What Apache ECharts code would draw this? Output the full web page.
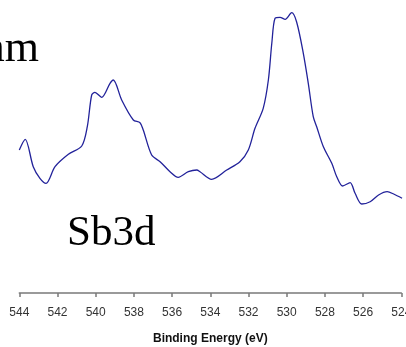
<!DOCTYPE html>
<html>
<head>
<meta charset="utf-8">
<script src="https://cdn.jsdelivr.net/npm/echarts@6/dist/echarts.min.js"></script>
<style>html,body{margin:0;padding:0;background:#fff}#c{width:406px;height:347px}</style>
</head>
<body>
<div id="c"></div>
<script>
var energy = [544.00,543.69,543.27,542.92,542.60,542.13,541.43,540.73,540.44,540.21,540.04,539.69,539.25,539.08,538.64,538.03,537.68,537.51,537.07,536.63,536.11,535.68,535.15,534.71,534.54,533.93,533.14,532.45,532.01,531.66,531.23,530.96,530.78,530.61,530.35,530.08,529.74,529.48,529.13,528.87,528.61,528.43,528.08,527.64,527.38,527.07,526.68,526.42,526.07,525.63,525.19,524.74,524.40,523.96];
var intensity = [143,153.7,126.3,114.7,109.7,126.3,138.7,147,166.3,198,200.7,195.7,209.7,213,193,173,170.3,163,138,131.3,121.3,115.7,121.3,123,121.3,113.7,123,131.3,143,164.7,184.7,213,249.7,274.7,275.7,273.7,280.3,271,239.7,209.7,176.3,166.3,146.3,129.7,116.3,107,110.3,99.7,89,91.3,98,101.3,99,94.7];
var xTicks = {min: 524, max: 544, interval: 2};
var axisTitle = 'Binding Energy (eV)';
var labelTop = 'nm';
var labelPeak = 'Sb3d';

var data = energy.map(function (e, i) { return [e, intensity[i]]; });
var chart = echarts.init(document.getElementById('c'), null, {renderer: 'canvas'});
chart.setOption({
  animation: false,
  backgroundColor: '#fff',
  grid: {left: 19.3, right: 4.7, top: 0, bottom: 54, containLabel: false, outerBoundsMode: 'none'},
  xAxis: {
    type: 'value', inverse: true,
    min: xTicks.min, max: xTicks.max, interval: xTicks.interval,
    name: axisTitle, nameLocation: 'middle', nameGap: 40,
    nameTextStyle: {fontFamily: 'Liberation Sans', fontWeight: 'bold', fontSize: 12, color: '#111'},
    axisLine: {lineStyle: {color: '#7a7a7a', width: 1.5}},
    axisTick: {length: 4, lineStyle: {color: '#7a7a7a', width: 1.5}},
    axisLabel: {margin: 14, fontFamily: 'Liberation Sans', fontSize: 12, color: '#333', hideOverlap: false},
    splitLine: {show: false}
  },
  yAxis: {type: 'value', min: 0, max: 293, show: false},
  series: [{
    type: 'line', data: data, smooth: 0.3, symbol: 'none',
    lineStyle: {color: '#22229a', width: 1.3}
  }],
  graphic: [
    {type: 'text', x: 39, y: 71, style: {text: labelTop, font: '44px "Liberation Serif"', fill: '#000', textAlign: 'right', textVerticalAlign: 'bottom'}},
    {type: 'text', x: 67, y: 255, style: {text: labelPeak, font: '43px "Liberation Serif"', fill: '#000', textAlign: 'left', textVerticalAlign: 'bottom'}}
  ]
});
</script>
</body>
</html>
